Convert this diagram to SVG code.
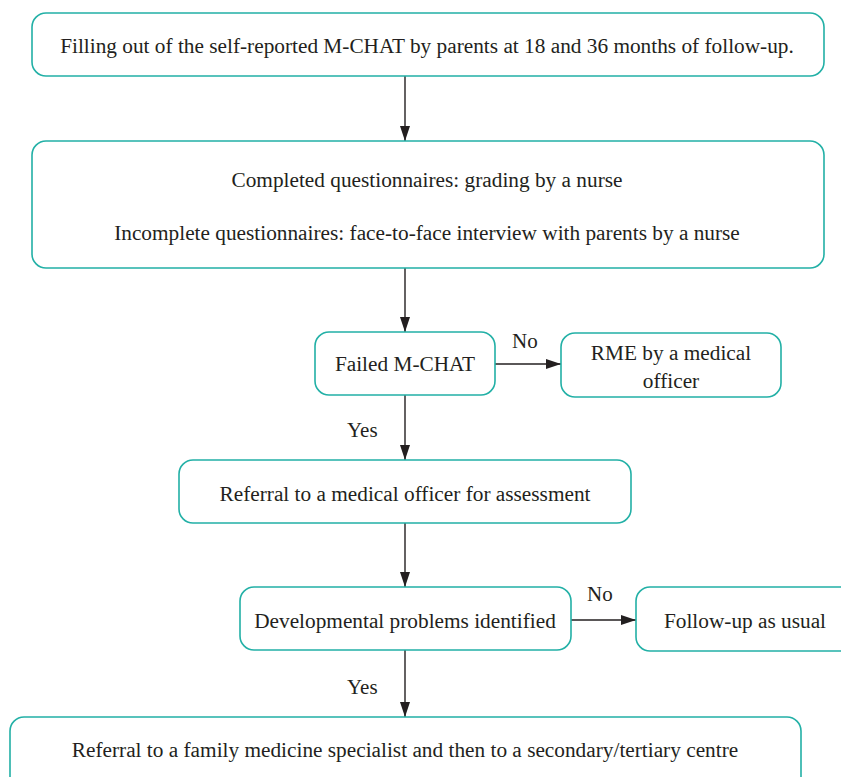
<svg xmlns="http://www.w3.org/2000/svg" width="841" height="777" viewBox="0 0 841 777">
<defs>
<style>
.box{fill:#fff;stroke:#22b0a6;stroke-width:1.6}
.t{font-family:"Liberation Serif","Times New Roman",serif;font-size:21.3px;fill:#231f20;text-anchor:middle}
.l{font-family:"Liberation Serif","Times New Roman",serif;font-size:21px;fill:#231f20}
.c{stroke:#231f20;stroke-width:1.4;fill:none}
</style>
<marker id="ah" viewBox="0 0 15 10" refX="15" refY="5" markerWidth="15" markerHeight="10" markerUnits="userSpaceOnUse" orient="auto">
<path d="M0,0 L15,5 L0,10 Z" fill="#231f20"/>
</marker>
</defs>
<rect width="841" height="777" fill="#fff"/>
<g id="connectors">
<line class="c" x1="405" y1="76" x2="405" y2="141" marker-end="url(#ah)"/>
<line class="c" x1="405" y1="268" x2="405" y2="332" marker-end="url(#ah)"/>
<line class="c" x1="495" y1="364" x2="561" y2="364" marker-end="url(#ah)"/>
<line class="c" x1="405" y1="395" x2="405" y2="460" marker-end="url(#ah)"/>
<line class="c" x1="405" y1="523" x2="405" y2="587" marker-end="url(#ah)"/>
<line class="c" x1="571" y1="620" x2="636" y2="620" marker-end="url(#ah)"/>
<line class="c" x1="405" y1="650" x2="405" y2="717" marker-end="url(#ah)"/>
<text class="l" x="512" y="348">No</text>
<text class="l" x="347" y="437">Yes</text>
<text class="l" x="587" y="601">No</text>
<text class="l" x="347" y="694">Yes</text>
</g>
<g id="n1"><rect class="box" x="32" y="13" width="792" height="63" rx="14"/>
<text class="t" x="427" y="53">Filling out of the self-reported M-CHAT by parents at 18 and 36 months of follow-up.</text></g>
<g id="n2"><rect class="box" x="32" y="141" width="792" height="127" rx="14"/>
<text class="t" x="427" y="187">Completed questionnaires: grading by a nurse</text>
<text class="t" x="427" y="240">Incomplete questionnaires: face-to-face interview with parents by a nurse</text></g>
<g id="n3"><rect class="box" x="315" y="332" width="180" height="63" rx="14"/>
<text class="t" x="405" y="371">Failed M-CHAT</text></g>
<g id="n4"><rect class="box" x="561" y="333" width="220" height="64" rx="14"/>
<text class="t" x="671" y="360">RME by a medical</text>
<text class="t" x="671" y="388">officer</text></g>
<g id="n5"><rect class="box" x="179" y="460" width="452" height="63" rx="14"/>
<text class="t" x="405" y="501">Referral to a medical officer for assessment</text></g>
<g id="n6"><rect class="box" x="240" y="587" width="331" height="63" rx="14"/>
<text class="t" x="405" y="628">Developmental problems identified</text></g>
<g id="n7"><rect class="box" x="636" y="587" width="220" height="64" rx="14"/>
<text class="t" x="745" y="628">Follow-up as usual</text></g>
<g id="n8"><rect class="box" x="10" y="717" width="791" height="75" rx="14"/>
<text class="t" x="405" y="757">Referral to a family medicine specialist and then to a secondary/tertiary centre</text></g>
</svg>
